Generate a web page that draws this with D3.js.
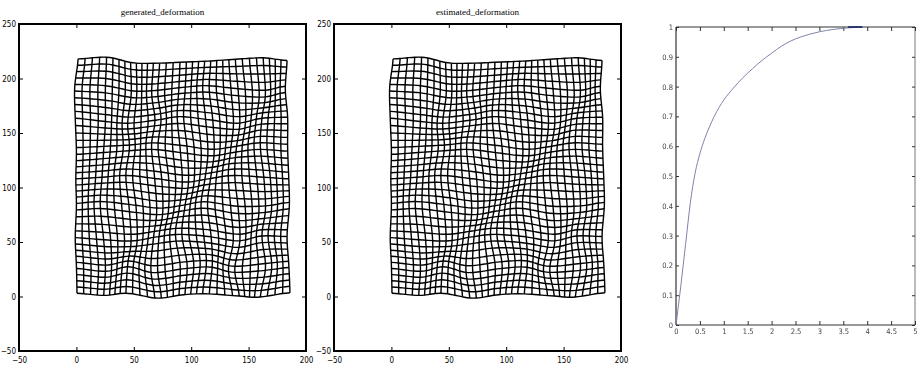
<!DOCTYPE html>
<html><head><meta charset="utf-8">
<script src="https://cdn.jsdelivr.net/npm/d3@7"></script>
<style>
body{margin:0;background:#fff;}
svg{display:block;}
.tk text{font-family:"Liberation Sans Narrow","DejaVu Sans Condensed",sans-serif;font-size:8px;fill:#000;}
.tk3 text{font-family:"Liberation Sans Narrow","DejaVu Sans Condensed",sans-serif;font-size:7.5px;fill:#444;}
.ttl{font-family:"Liberation Serif","DejaVu Serif",serif;font-size:9px;fill:#000;}
</style></head>
<body>
<script>
// ---------------- data ----------------
const titles = ["generated_deformation", "estimated_deformation"];
const gridXTicks = [-50, 0, 50, 100, 150, 200];
const gridYTicks = [-50, 0, 50, 100, 150, 200, 250];
// regular grid before deformation
const gridWidth = 184, gridCellsX = 33;
const gridHeight = 216, gridCellsY = 36;
// coarse displacement field (control points)
const ctrlX = [0, 23, 46, 69, 92, 115, 138, 161, 184];
const ctrlY = [0, 27, 54, 81, 108, 135, 162, 189, 216];
const genDy = [
  [3, 1, 3, -1.5, 1.5, 2.5, 0.5, -0.5, 3.5],
  [1.5, -1, 3, -2, 1.5, 3, -2, 0, 2.5],
  [0, -2, -3, 0.5, 3, 1, -3, 1.5, 1],
  [1.5, 3, 0, -3, 0, 3, -1.5, -1, 2.5],
  [0, 1.5, 3, 0, -3, 0, 3, 1.5, 0],
  [-1.5, 0, 1.5, 3, 0, -3, 0, 3, 1.5],
  [1.5, -1.5, -3, 0, 3, 0, -3, 1.5, 2.5],
  [2.5, 1, -3.5, -3, 0, 1.5, -1.5, -3, 1],
  [2, 3.5, -1.5, -2, -1, 0, 1.5, 3, 0.5]
];
const genDx = [
  [0.5, 1.5, -1.5, 1.5, 0, -1.5, 2.5, -1.5, 2],
  [0, 3, 0, -2, 1.5, 1.5, -1.5, 3, 1],
  [-1, 1.5, 3, 0, -3, 0, 3, 0, -0.5],
  [0, -1.5, 1.5, 3, 0, -3, 1.5, 3, 1.5],
  [-0.5, 0, -1.5, 1.5, 3, 0, -1.5, 1.5, 1],
  [0, 1.5, 1.5, -1.5, 1.5, 3, 0, -1.5, 0],
  [-1, 3, 0, 1.5, -1.5, 1.5, 3, 0, 0],
  [-1.5, 3, 3, -1.5, 0, -1.5, 1.5, 3, -2],
  [1.5, 4, 2.5, 0, 1, 0, -1, 1, -0.5]
];
const estDy = genDy;
const estDx = genDx;

const curveX = [0, 0.1, 0.2, 0.3, 0.4, 0.5, 0.6, 0.7, 0.8, 0.9, 1.0, 1.2, 1.4, 1.6, 1.8, 2.0, 2.2, 2.4, 2.6, 2.8, 3.0, 3.3, 3.6, 3.9];
const curveY = [0, 0.13, 0.27, 0.41, 0.51, 0.575, 0.625, 0.665, 0.70, 0.73, 0.755, 0.795, 0.83, 0.86, 0.888, 0.912, 0.935, 0.953, 0.966, 0.976, 0.984, 0.992, 0.997, 1.0];
const p3XTicks = [0, 0.5, 1, 1.5, 2, 2.5, 3, 3.5, 4, 4.5, 5];
const p3XLabels = ["0", "0.5", "1", "1.5", "2", "2.5", "3", "3.5", "4", "4.5", "5"];
const p3YTicks = [0, 0.1, 0.2, 0.3, 0.4, 0.5, 0.6, 0.7, 0.8, 0.9, 1];
const p3YLabels = ["0", "0.1", "0.2", "0.3", "0.4", "0.5", "0.6", "0.7", "0.8", "0.9", "1"];

// ---------------- drawing ----------------
const W = 922, H = 368;
const svg = d3.select("body").append("svg").attr("width", W).attr("height", H);
svg.append("rect").attr("width", W).attr("height", H).attr("fill", "#fff");

function cr(p0, p1, p2, p3, t) {
  return 0.5 * (2 * p1 + (-p0 + p2) * t + (2 * p0 - 5 * p1 + 4 * p2 - p3) * t * t + (-p0 + 3 * p1 - 3 * p2 + p3) * t * t * t);
}
function sampleField(field, x, y) {
  const sx = ctrlX[1] - ctrlX[0], sy = ctrlY[1] - ctrlY[0];
  const n = ctrlX.length - 1, m = ctrlY.length - 1;
  const u = (x - ctrlX[0]) / sx, v = (y - ctrlY[0]) / sy;
  const i = Math.max(0, Math.min(n - 1, Math.floor(u))), j = Math.max(0, Math.min(m - 1, Math.floor(v)));
  const tu = u - i, tv = v - j;
  const cl = (k, hi) => Math.max(0, Math.min(hi, k));
  const rowVal = r => {
    const R = field[cl(r, m)];
    const g = c => R[cl(c, n)];
    return cr(g(i - 1), g(i), g(i + 1), g(i + 2), tu);
  };
  return cr(rowVal(j - 1), rowVal(j), rowVal(j + 1), rowVal(j + 2), tv);
}

function gridPanel(x0, x1, title, fdx, fdy) {
  const x = d3.scaleLinear().domain([-50, 200]).range([x0, x1]);
  const y = d3.scaleLinear().domain([-50, 250]).range([351, 24]);
  const g = svg.append("g");
  const nodes = [];
  for (let r = 0; r <= gridCellsY; r++) {
    const row = [];
    for (let c = 0; c <= gridCellsX; c++) {
      const bx = c * gridWidth / gridCellsX, by = r * gridHeight / gridCellsY;
      row.push([bx + sampleField(fdx, bx, by), by + sampleField(fdy, bx, by)]);
    }
    nodes.push(row);
  }
  const line = d3.line().x(d => x(d[0])).y(d => y(d[1])).curve(d3.curveCatmullRom);
  const lines = [];
  nodes.forEach(row => lines.push(row));
  for (let c = 0; c <= gridCellsX; c++) lines.push(nodes.map(row => row[c]));
  g.selectAll("path.gl").data(lines).join("path").attr("class", "gl")
    .attr("d", line).attr("fill", "none").attr("stroke", "#000").attr("stroke-width", 1.4);

  const fmt = d => d < 0 ? "\u2212" + Math.abs(d) : String(d);
  g.append("g").attr("class", "tk").attr("transform", `translate(0,351)`)
    .call(d3.axisBottom(x).tickValues(gridXTicks).tickSizeInner(-4).tickSizeOuter(0).tickPadding(6).tickFormat(fmt));
  g.append("g").attr("class", "tk").attr("transform", `translate(0,24)`)
    .call(d3.axisTop(x).tickValues(gridXTicks).tickSizeInner(-4).tickSizeOuter(0).tickFormat(""));
  g.append("g").attr("class", "tk").attr("transform", `translate(${x0},0)`)
    .call(d3.axisLeft(y).tickValues(gridYTicks).tickSizeInner(-4).tickSizeOuter(0).tickPadding(3).tickFormat(fmt));
  g.append("g").attr("class", "tk").attr("transform", `translate(${x1},0)`)
    .call(d3.axisRight(y).tickValues(gridYTicks).tickSizeInner(-4).tickSizeOuter(0).tickFormat(""));
  g.selectAll(".tk .domain").remove();
  g.selectAll(".tk line").attr("stroke", "#000");
  g.append("rect").attr("x", x0).attr("y", 24).attr("width", x1 - x0).attr("height", 327)
    .attr("fill", "none").attr("stroke", "#000").attr("stroke-width", 2);
  g.append("text").attr("class", "ttl").attr("x", (x0 + x1) / 2).attr("y", 15)
    .attr("text-anchor", "middle").text(title);
}

gridPanel(19, 306, titles[0], genDx, genDy);
gridPanel(334, 621, titles[1], estDx, estDy);

// third panel
{
  const defs = svg.append("defs");
  defs.append("filter").attr("id", "soft").append("feGaussianBlur").attr("stdDeviation", 0.35);
  const x = d3.scaleLinear().domain([0, 5]).range([676, 915]);
  const y = d3.scaleLinear().domain([0, 1]).range([325, 27]);
  const g = svg.append("g").attr("filter", "url(#soft)");
  g.append("line").attr("x1", 915).attr("x2", 915).attr("y1", 27).attr("y2", 325)
    .attr("stroke", "#bbb").attr("stroke-width", 2);
  const ax = [
    [d3.axisBottom(x).tickValues(p3XTicks).tickFormat((d, i) => p3XLabels[i]).tickSizeInner(-4).tickSizeOuter(0).tickPadding(4), `translate(0,325)`],
    [d3.axisTop(x).tickValues(p3XTicks).tickFormat("").tickSizeInner(-4).tickSizeOuter(0), `translate(0,27)`],
    [d3.axisLeft(y).tickValues(p3YTicks).tickFormat((d, i) => p3YLabels[i]).tickSizeInner(-3).tickSizeOuter(0).tickPadding(3), `translate(676,0)`],
    [d3.axisRight(y).tickValues(p3YTicks).tickFormat("").tickSizeInner(-3).tickSizeOuter(0), `translate(915,0)`]
  ];
  ax.forEach(([a, t]) => g.append("g").attr("class", "tk3").attr("transform", t).call(a));
  g.selectAll(".tk3 .domain").remove();
  g.selectAll(".tk3 line").attr("stroke", "#333");
  g.append("line").attr("x1", 676).attr("x2", 915).attr("y1", 27).attr("y2", 27).attr("stroke", "#333").attr("stroke-width", 1.2);
  g.append("line").attr("x1", 676).attr("x2", 915).attr("y1", 325).attr("y2", 325).attr("stroke", "#333").attr("stroke-width", 1.2);
  g.append("line").attr("x1", 676).attr("x2", 676).attr("y1", 27).attr("y2", 325).attr("stroke", "#333").attr("stroke-width", 1.2);
  const pts = curveX.map((v, i) => [v, curveY[i]]);
  g.append("path").datum(pts)
    .attr("d", d3.line().x(d => x(d[0])).y(d => y(d[1])).curve(d3.curveMonotoneX))
    .attr("fill", "none").attr("stroke", "#7d83ab").attr("stroke-width", 1);
  g.append("path").datum(pts.filter(d => d[0] >= 3.4))
    .attr("d", d3.line().x(d => x(d[0])).y(() => y(1)))
    .attr("fill", "none").attr("stroke", "#1a2260").attr("stroke-width", 1.6);
}
</script>
</body></html>
